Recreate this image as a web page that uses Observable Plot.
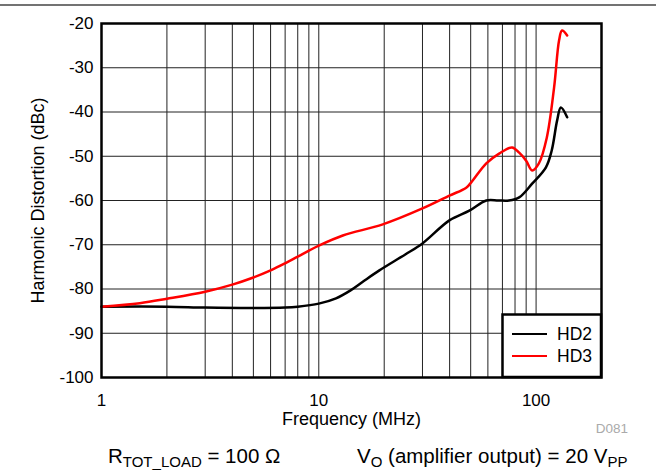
<!DOCTYPE html>
<html>
<head>
<meta charset="utf-8">
<script src="https://cdn.jsdelivr.net/npm/d3@7"></script>
<script src="https://cdn.jsdelivr.net/npm/@observablehq/plot@0.6"></script>
<style>
  body { margin: 0; background: white; }
  #wrap { position: relative; width: 656px; height: 476px; font-family: "Liberation Sans", Arial, sans-serif; }
  #overlay { position: absolute; left: 0; top: 0; pointer-events: none; }
</style>
</head>
<body>
<div id="wrap"></div>
<script>
// ---- data ----
const hd2Freq = [1, 2, 3, 5, 7, 8, 10, 12, 14, 16, 19, 25, 30, 39.9, 49.3, 59, 67, 75, 83.6, 95.9, 111, 118, 125, 130, 139];
const hd2Vals = [-84, -84, -84.2, -84.3, -84.2, -84, -83.3, -82.1, -80.3, -78.3, -75.8, -72.2, -69.7, -64.5, -62.3, -60, -60, -60, -59.3, -56.2, -52.5, -48.7, -41.9, -39, -41.2];
const hd3Freq = [1, 1.5, 2, 3, 4, 5, 6, 7, 8, 10, 12.9, 19.7, 30, 39.9, 47.7, 50.3, 59, 67.6, 77.6, 83.6, 90, 95.9, 103, 112, 121, 127.6, 131.6, 139];
const hd3Vals = [-84, -83.2, -82.2, -80.6, -79, -77.4, -75.8, -74.2, -72.7, -70.2, -67.9, -65.4, -61.8, -58.9, -57.1, -55.9, -51.6, -49.4, -48.0, -49.2, -51, -53.2, -51.6, -45.8, -34.5, -23.8, -21.6, -22.7];
const xTickLabels = [1, 10, 100];
const xGridTicks = [2,3,4,5,6,7,8,9,10,20,30,40,50,60,70,80,90,100,200];
const yTicks = [-100, -90, -80, -70, -60, -50, -40, -30, -20];
const seriesNames = ["HD2", "HD3"];
const seriesColors = ["#000000", "#ff0000"];

const hd2 = hd2Freq.map((f, i) => ({f, v: hd2Vals[i]}));
const hd3 = hd3Freq.map((f, i) => ({f, v: hd3Vals[i]}));

const chart = Plot.plot({
  width: 656,
  height: 476,
  marginLeft: 101,
  marginRight: 55,
  marginTop: 23,
  marginBottom: 99,
  x: {type: "log", domain: [1, 200]},
  y: {domain: [-100, -20]},
  style: {fontFamily: "'Liberation Sans', Arial, sans-serif", fontSize: "17px", color: "black", background: "white"},
  marks: [
    Plot.gridX(xGridTicks, {stroke: "#222", strokeOpacity: 1, strokeWidth: 1}),
    Plot.gridY(yTicks, {stroke: "#222", strokeOpacity: 1, strokeWidth: 1}),
    Plot.axisX(xTickLabels, {tickSize: 0, tickPadding: 16, tickFormat: d => String(d), label: null, fontSize: 17}),
    Plot.axisY(yTicks, {tickSize: 0, tickPadding: 8, tickFormat: d => String(d), label: null, fontSize: 17}),
    Plot.line(hd2, {x: "f", y: "v", stroke: seriesColors[0], strokeWidth: 2.5, curve: "catmull-rom"}),
    Plot.line(hd3, {x: "f", y: "v", stroke: seriesColors[1], strokeWidth: 2.5, curve: "catmull-rom"}),
    Plot.frame({stroke: "black", strokeWidth: 2.5}),
    Plot.text(["Frequency (MHz)"], {frameAnchor: "bottom", textAnchor: "middle", lineAnchor: "middle", dy: 42, fontSize: 18}),
    Plot.text(["Harmonic Distortion (dBc)"], {frameAnchor: "left", textAnchor: "middle", lineAnchor: "middle", dx: -63, rotate: -90, fontSize: 18})
  ]
});
document.getElementById("wrap").appendChild(chart);

// overlay: top rule, legend, caption, figure id
const ov = d3.select("#wrap").append("svg")
  .attr("id", "overlay").attr("width", 656).attr("height", 476)
  .style("font-family", "'Liberation Sans', Arial, sans-serif");
ov.append("line").attr("x1", 0).attr("x2", 656).attr("y1", 5).attr("y2", 5)
  .attr("stroke", "#444").attr("stroke-width", 1.5);

// legend
const lg = ov.append("g");
lg.append("rect").attr("x", 502.5).attr("y", 314.5).attr("width", 98.5).attr("height", 62.5)
  .attr("fill", "white").attr("stroke", "black").attr("stroke-width", 2.5);
seriesNames.forEach((name, i) => {
  const y = 334 + i * 22;
  lg.append("line").attr("x1", 512).attr("x2", 547).attr("y1", y).attr("y2", y)
    .attr("stroke", seriesColors[i]).attr("stroke-width", 2);
  lg.append("text").attr("x", 557).attr("y", y).attr("dy", "0.36em")
    .attr("font-size", 17.5).text(name);
});

// figure id
ov.append("text").attr("x", 612).attr("y", 433).attr("text-anchor", "middle")
  .attr("font-size", 13.5).attr("fill", "#aaa").text("D081");

// caption
const c1 = ov.append("text").attr("x", 108).attr("y", 463).attr("font-size", 20.5);
c1.append("tspan").text("R");
c1.append("tspan").attr("font-size", 15).attr("dy", 4).text("TOT_LOAD");
c1.append("tspan").attr("dy", -4).text(" = 100 Ω");
const c2 = ov.append("text").attr("x", 357).attr("y", 463).attr("font-size", 20.5);
c2.append("tspan").text("V");
c2.append("tspan").attr("font-size", 15).attr("dy", 4).text("O");
c2.append("tspan").attr("dy", -4).text(" (amplifier output) = 20 V");
c2.append("tspan").attr("font-size", 15).attr("dy", 4).text("PP");
</script>
</body>
</html>
